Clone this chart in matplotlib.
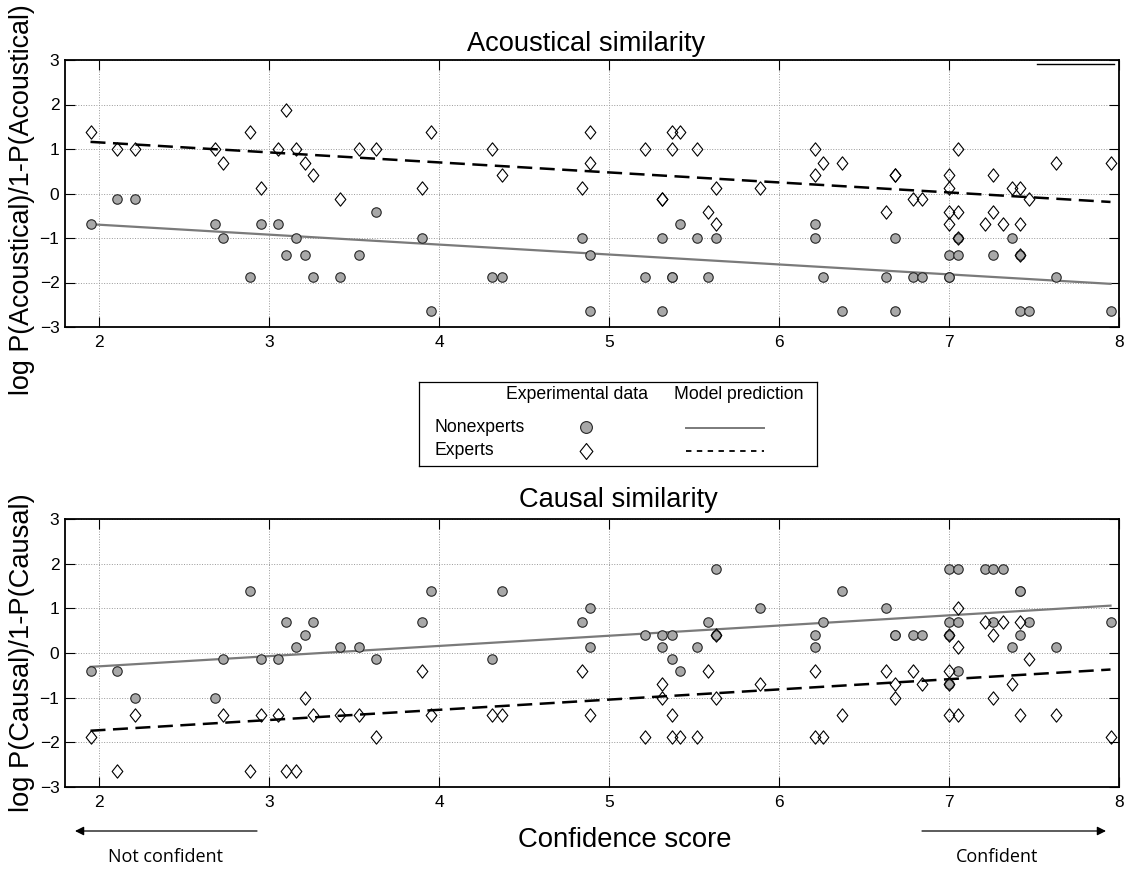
import numpy as np
import matplotlib
matplotlib.use('Agg')
import matplotlib.pyplot as plt
from matplotlib.path import Path

plt.rcParams['font.family'] = ['Liberation Sans', 'DejaVu Sans']

# ---- Acoustical similarity ----
# nonexperts (grey circles)
ac_non_x = [1.95, 2.105, 2.21, 2.68, 2.73, 2.89, 2.95, 3.05, 3.10, 3.16, 3.21, 3.26, 3.42, 3.53, 3.63, 3.90, 3.95, 4.31, 4.37,
            4.84, 4.89, 4.89, 5.21, 5.31, 5.31, 5.37, 5.37, 5.42, 5.52, 5.58, 5.63, 6.21, 6.21, 6.26, 6.37, 6.63, 6.68, 6.68,
            6.79, 6.84, 7.0, 7.0, 7.0, 7.05, 7.05, 7.26, 7.37, 7.42, 7.42, 7.47, 7.63, 7.95]
ac_non_y = [-0.69, -0.13, -0.13, -0.69, -1.01, -1.87, -0.69, -0.69, -1.39, -1.01, -1.39, -1.87, -1.87, -1.39, -0.41, -1.01, -2.64, -1.87, -1.87,
            -1.01, -1.39, -2.64, -1.87, -1.01, -2.64, -1.87, -1.87, -0.69, -1.01, -1.87, -1.01, -0.69, -1.01, -1.87, -2.64, -1.87, -1.01, -2.64,
            -1.87, -1.87, -1.39, -1.87, -1.87, -1.01, -1.39, -1.39, -1.01, -1.39, -2.64, -2.64, -1.87, -2.64]
# experts (open diamonds)
ac_exp_x = [1.95, 2.105, 2.21, 2.68, 2.73, 2.89, 2.95, 3.05, 3.10, 3.16, 3.21, 3.26, 3.42, 3.53, 3.63, 3.90, 3.95, 4.31, 4.37,
            4.89, 4.89, 4.84, 5.21, 5.31, 5.31, 5.37, 5.37, 5.42, 5.52, 5.58, 5.63, 5.63, 5.89, 6.21, 6.21, 6.26, 6.37, 6.63,
            6.68, 6.68, 6.79, 6.84, 7.0, 7.0, 7.0, 7.0, 7.05, 7.05, 7.05, 7.21, 7.26, 7.26, 7.32, 7.37, 7.42, 7.42, 7.42,
            7.47, 7.63, 7.95]
ac_exp_y = [1.39, 1.01, 1.01, 1.01, 0.69, 1.39, 0.13, 1.01, 1.87, 1.01, 0.69, 0.41, -0.13, 1.01, 1.01, 0.13, 1.39, 1.01, 0.41,
            1.39, 0.69, 0.13, 1.01, -0.13, -0.13, 1.39, 1.01, 1.39, 1.01, -0.41, 0.13, -0.69, 0.13, 1.01, 0.41, 0.69, 0.69, -0.41,
            0.41, 0.41, -0.13, -0.13, 0.41, 0.13, -0.41, -0.69, 1.01, -0.41, -1.01, -0.69, 0.41, -0.41, -0.69, 0.13, 0.13, -0.69, -1.39,
            -0.13, 0.69, 0.69]

# ---- Causal similarity ----
ca_non_x = [1.95, 2.105, 2.21, 2.68, 2.73, 2.89, 2.95, 3.05, 3.10, 3.16, 3.21, 3.26, 3.42, 3.53, 3.63, 3.90, 3.95, 4.31, 4.37,
            4.89, 4.84, 4.89, 5.21, 5.31, 5.37, 5.31, 5.37, 5.42, 5.52, 5.58, 5.63, 5.63, 5.89, 6.21, 6.21, 6.26, 6.37, 6.63,
            6.68, 6.68, 6.79, 6.84, 7.0, 7.05, 7.21, 7.26, 7.32, 7.42, 7.42, 7.0, 7.05, 7.0, 7.05, 7.0, 7.26, 7.47, 7.42,
            7.37, 7.63, 7.95]
ca_non_y = [-0.41, -0.41, -1.01, -1.01, -0.13, 1.39, -0.13, -0.13, 0.69, 0.13, 0.41, 0.69, 0.13, 0.13, -0.13, 0.69, 1.39, -0.13, 1.39,
            1.01, 0.69, 0.13, 0.41, 0.41, 0.41, 0.13, -0.13, -0.41, 0.13, 0.69, 1.87, 0.41, 1.01, 0.41, 0.13, 0.69, 1.39, 1.01,
            0.41, 0.41, 0.41, 0.41, 1.87, 1.87, 1.87, 1.87, 1.87, 1.39, 1.39, 0.69, 0.69, 0.41, -0.41, -0.69, 0.69, 0.69, 0.41,
            0.13, 0.13, 0.69]
ca_exp_x = [1.95, 2.105, 2.21, 2.73, 2.89, 2.95, 3.05, 3.10, 3.16, 3.21, 3.26, 3.42, 3.53, 3.63, 3.90, 3.95, 4.31, 4.37,
            4.84, 4.89, 5.21, 5.31, 5.31, 5.37, 5.37, 5.42, 5.52, 5.58, 5.63, 5.63, 5.89, 6.21, 6.21, 6.26, 6.37, 6.63,
            6.68, 6.68, 6.79, 6.84, 7.0, 7.0, 7.0, 7.0, 7.05, 7.05, 7.05, 7.21, 7.26, 7.26, 7.32, 7.37, 7.42, 7.42,
            7.47, 7.63, 7.95]
ca_exp_y = [-1.87, -2.64, -1.39, -1.39, -2.64, -1.39, -1.39, -2.64, -2.64, -1.01, -1.39, -1.39, -1.39, -1.87, -0.41, -1.39, -1.39, -1.39,
            -0.41, -1.39, -1.87, -0.69, -1.01, -1.39, -1.87, -1.87, -1.87, -0.41, 0.41, -1.01, -0.69, -0.41, -1.87, -1.87, -1.39, -0.41,
            -0.69, -1.01, -0.41, -0.69, 0.41, -0.41, -0.69, -1.39, 1.01, 0.13, -1.39, 0.69, 0.41, -1.01, 0.69, -0.69, 0.69, -1.39,
            -0.13, -1.39, -1.87]

# model predictions (straight lines)
fit_x = [1.95, 7.95]
ac_fit_non = [-0.69, -2.03]
ac_fit_exp = [1.16, -0.19]
ca_fit_non = [-0.31, 1.06]
ca_fit_exp = [-1.74, -0.37]

W, H = 1125, 869
fig = plt.figure(figsize=(W / 100, H / 100), dpi=100)


def box(l, t, r, b):
    return [l / W, 1 - b / H, (r - l) / W, (b - t) / H]


def fx(x):
    return x / W


def fy(y):
    return 1 - y / H


diamond = Path([(0, 1), (0.8, 0), (0, -1), (-0.8, 0), (0, 1)],
               [Path.MOVETO, Path.LINETO, Path.LINETO, Path.LINETO, Path.CLOSEPOLY])

circ_kw = dict(ls='none', marker='o', ms=6.8, mfc='#a8a8a8', mec='#262626', mew=0.8)
diam_kw = dict(ls='none', marker=diamond, ms=9.6, mfc='none', mec='k', mew=0.8)


def panel(ax, nx, ny, ex, ey, fit_non, fit_exp):
    ax.plot(fit_x, fit_non, color='#7a7a7a', lw=1.6, zorder=2)
    ax.plot(fit_x, fit_exp, color='k', lw=1.8, ls=(0, (6, 3)), zorder=2)
    ax.plot(nx, ny, zorder=3, **circ_kw)
    ax.plot(ex, ey, zorder=4, **diam_kw)
    ax.set_xlim(1.8, 8)
    ax.set_ylim(-3, 3)
    ax.set_xticks(range(2, 9))
    ax.set_yticks(range(-3, 4))
    ax.grid(True, ls=':', color='#999999', lw=0.7)
    ax.tick_params(direction='in', length=7, width=0.8, top=True, right=True, labelsize=12.5)
    ax.tick_params(axis='x', pad=6)
    ax.tick_params(axis='y', pad=4)
    for s in ax.spines.values():
        s.set_linewidth(1.3)


ax1 = fig.add_axes(box(65, 60, 1119, 327))
panel(ax1, ac_non_x, ac_non_y, ac_exp_x, ac_exp_y, ac_fit_non, ac_fit_exp)
ax1.plot([0.922, 0.995], [0.985, 0.985], transform=ax1.transAxes, color='k', lw=1)

ax2 = fig.add_axes(box(65, 519, 1119, 787))
panel(ax2, ca_non_x, ca_non_y, ca_exp_x, ca_exp_y, ca_fit_non, ca_fit_exp)

# titles and axis labels
fig.text(fx(586), fy(51), 'Acoustical similarity', fontsize=19.6, ha='center', va='baseline')
fig.text(fx(618), fy(507), 'Causal similarity', fontsize=19.6, ha='center', va='baseline')
fig.text(fx(22), fy(200), 'log P(Acoustical)/1-P(Acoustical)', fontsize=19.4, rotation=90, ha='center', va='center')
fig.text(fx(22), fy(653), 'log P(Causal)/1-P(Causal)', fontsize=19.6, rotation=90, ha='center', va='center')
fig.text(fx(625), fy(847), 'Confidence score', fontsize=19.8, ha='center', va='baseline')

# confidence arrows
fig.text(fx(165), fy(862), 'Not confident', fontsize=13, family='Open Sans', ha='center', va='baseline')
fig.text(fx(997), fy(862), 'Confident', fontsize=13, family='Open Sans', ha='center', va='baseline')
arw = dict(arrowstyle='-|>', color='k', lw=0.9, mutation_scale=13, shrinkA=0, shrinkB=0)
fig.add_artist(matplotlib.patches.FancyArrowPatch((fx(257), fy(831)), (fx(75), fy(831)),
                                                  transform=fig.transFigure, **arw))
fig.add_artist(matplotlib.patches.FancyArrowPatch((fx(922), fy(831)), (fx(1106), fy(831)),
                                                  transform=fig.transFigure, **arw))

# legend box
axl = fig.add_axes(box(419, 382, 817, 466))
axl.set_xlim(419, 817)
axl.set_ylim(466, 382)
axl.set_xticks([])
axl.set_yticks([])
for s in axl.spines.values():
    s.set_linewidth(0.9)
axl.text(577, 395, 'Experimental data', fontsize=12.7, ha='center', va='center')
axl.text(739, 395, 'Model prediction', fontsize=12.7, ha='center', va='center')
axl.text(435, 428, 'Nonexperts', fontsize=12.7, ha='left', va='center')
axl.text(435, 451, 'Experts', fontsize=12.7, ha='left', va='center')
axl.plot([586], [427], **dict(circ_kw, ms=8.5))
axl.plot([586], [451], **dict(diam_kw, ms=11.5))
axl.plot([686, 764], [428, 428], color='#7a7a7a', lw=1.4)
axl.plot([686, 764], [451, 451], color='k', lw=1.3, ls=(0, (3, 3)))

plt.savefig('out.png', dpi=100)
